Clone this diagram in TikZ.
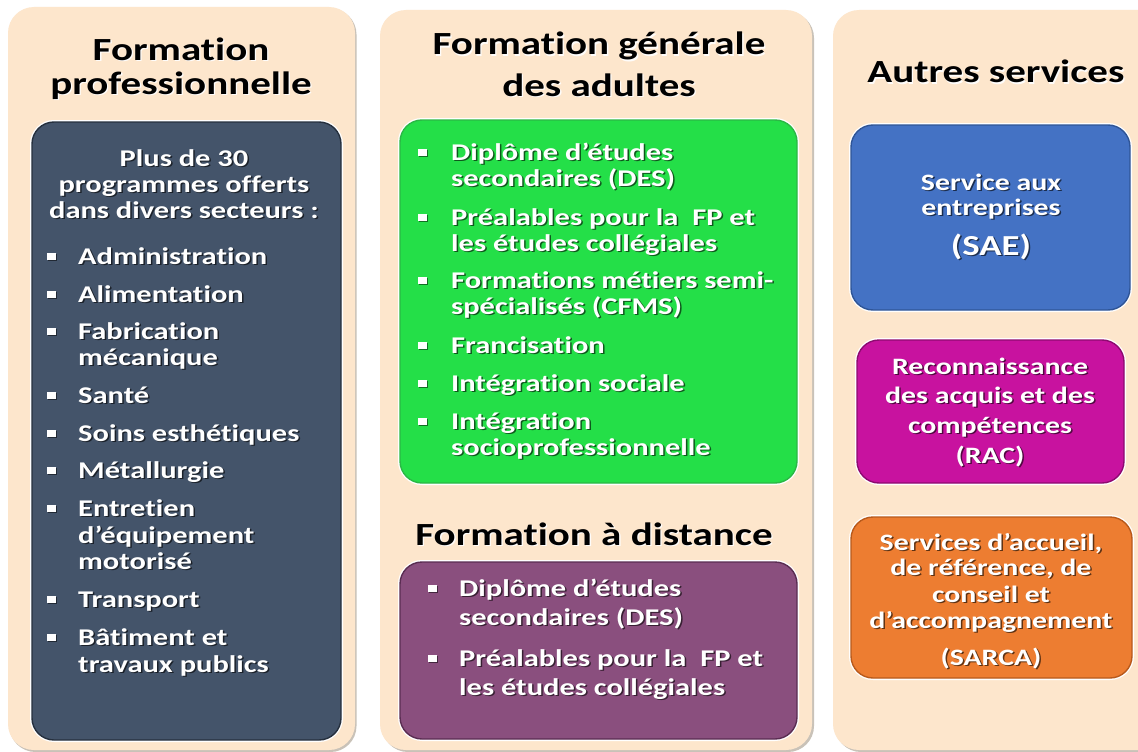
\documentclass[tikz,border=0pt]{standalone}
\usepackage{fontspec}
\newfontfamily\cf{Carlito}[FakeStretch=1.27,Ligatures=NoCommon]
\definecolor{cream}{HTML}{FDE6CC}
\definecolor{panelsh}{HTML}{C9C2B8}
\definecolor{slate}{HTML}{44546A}
\definecolor{slateb}{HTML}{26303E}
\definecolor{vgreen}{HTML}{24DF48}
\definecolor{vgreenb}{HTML}{2BB845}
\definecolor{plum}{HTML}{8A4F7E}
\definecolor{plumb}{HTML}{5A2D52}
\definecolor{sblue}{HTML}{4472C4}
\definecolor{sblueb}{HTML}{2F5597}
\definecolor{mag}{HTML}{C8129F}
\definecolor{magb}{HTML}{8E0A70}
\definecolor{orng}{HTML}{ED7D31}
\definecolor{orngb}{HTML}{B85A1C}
\tikzset{
  panel/.style={fill=cream, rounded corners=26pt},
  panelshadow/.style={fill=panelsh, rounded corners=26pt},
  box/.style={rounded corners=22pt, line width=1.4pt},
  boxglow/.style={rounded corners=22pt, draw=white, line width=4pt},
  titletxt/.style={font=\cf\bfseries\fontsize{32.3}{38}\selectfont, text=black, inner sep=0pt},
  titleglow/.style={text=white, opacity=0.9},
  wtxt/.style={font=\cf\bfseries\fontsize{24}{27}\selectfont, text=white, inner sep=0pt},
  rtxt/.style={font=\cf\bfseries\fontsize{23.5}{27}\selectfont},
  bigtxt/.style={font=\cf\bfseries\fontsize{29}{32}\selectfont},
  wsh/.style={text=black, opacity=0.6},
  bul/.style={rectangle, fill=white, minimum width=9pt, minimum height=7pt, inner sep=0pt},
  bulsh/.style={rectangle, fill=black, opacity=0.5, minimum width=9pt, minimum height=7pt, inner sep=0pt},
}
% white line with dark shadow: name, options, x, y, text
\newcommand\wl[5]{%
  \node[wtxt,#2,wsh] (#1s) at (#3+1.5,#4+1.5) {#5};
  \node[wtxt,#2] (#1) at (#3,#4) {#5};}
% title line with light glow
\newcommand\tl[4]{%
  \node[titletxt,anchor=base,titleglow] (#1g) at (#2+1.3,#3+1.3) {#4};
  \node[titletxt,anchor=base] (#1) at (#2,#3) {#4};}
% bullet: name, x, baseline y
\newcommand\bu[3]{%
  \node[bulsh] (#1s) at (#2+1.2,#3-7.5+1.2) {};
  \node[bul] (#1) at (#2,#3-7.5) {};}
\begin{document}
\begin{tikzpicture}[x=1pt,y=-1pt]
\useasboundingbox (0,0) rectangle (1138,752);
\fill[white] (0,0) rectangle (1138,752);
% panels
\fill[panelshadow] (9.5,8.5) rectangle (356.5,752);
\fill[panel] (8,7) rectangle (355,750);
\fill[panelshadow] (382,12) rectangle (814,752);
\fill[panel] (380,10) rectangle (812,750);
\fill[panelshadow] (835,12) rectangle (1170,752);
\fill[panel] (833,10) rectangle (1168,750);
% titles
\tl{t1a}{181}{60}{Formation}
\tl{t1b}{181}{94}{professionnelle}
\tl{t2a}{599}{55}{Formation générale}
\tl{t2b}{599}{96}{des adultes}
\tl{t3}{594}{545}{Formation à distance}
\tl{t4}{996}{83}{Autres services}
% coloured boxes
\draw[boxglow] (32,122) rectangle (341,740);
\draw[box, fill=slate, draw=slateb] (32,122) rectangle (341,740);
\draw[boxglow] (400,120) rectangle (797,483);
\draw[box, fill=vgreen, draw=vgreenb] (400,120) rectangle (797,483);
\draw[boxglow] (400,562) rectangle (797,739);
\draw[box, fill=plum, draw=plumb] (400,562) rectangle (797,739);
\draw[boxglow] (851,125) rectangle (1130,310);
\draw[box, fill=sblue, draw=sblueb] (851,125) rectangle (1130,310);
\draw[boxglow] (857,340) rectangle (1124,483);
\draw[box, fill=mag, draw=magb] (857,340) rectangle (1124,483);
\draw[boxglow] (851,517) rectangle (1132,678);
\draw[box, fill=orng, draw=orngb] (851,517) rectangle (1132,678);
% formation professionnelle
\wl{p1}{anchor=base}{184}{166}{Plus de 30}
\wl{p2}{anchor=base}{184}{192}{programmes offerts}
\wl{p3}{anchor=base}{184}{218}{dans divers secteurs :}
\wl{a1}{anchor=base west}{78}{264}{Administration}
\wl{a2}{anchor=base west}{78}{302}{Alimentation}
\wl{a3}{anchor=base west}{78}{339}{Fabrication}
\wl{a3b}{anchor=base west}{78}{365}{mécanique}
\wl{a4}{anchor=base west}{78}{403}{Santé}
\wl{a5}{anchor=base west}{78}{441}{Soins esthétiques}
\wl{a6}{anchor=base west}{78}{478}{Métallurgie}
\wl{a7}{anchor=base west}{78}{516}{Entretien}
\wl{a7b}{anchor=base west}{78}{543}{d’équipement}
\wl{a7c}{anchor=base west}{78}{569}{motorisé}
\wl{a8}{anchor=base west}{78}{607}{Transport}
\wl{a9}{anchor=base west}{78}{645}{Bâtiment et}
\wl{a9b}{anchor=base west}{78}{672}{travaux publics}
\bu{ba1}{51}{264}\bu{ba2}{51}{302}\bu{ba3}{51}{339}\bu{ba4}{51}{403}
\bu{ba5}{51}{441}\bu{ba6}{51}{478}\bu{ba7}{51}{516}\bu{ba8}{51}{607}
\bu{ba9}{51}{645}
% formation generale
\wl{g1}{anchor=base west}{451}{160}{Diplôme d’études}
\wl{g1b}{anchor=base west}{451}{186}{secondaires (DES)}
\wl{g2}{anchor=base west}{451}{225}{Préalables pour la\ \ FP et}
\wl{g2b}{anchor=base west}{451}{251}{les études collégiales}
\wl{g3}{anchor=base west}{451}{288}{Formations métiers semi-}
\wl{g3b}{anchor=base west}{451}{314}{spécialisés (CFMS)}
\wl{g4}{anchor=base west}{451}{353}{Francisation}
\wl{g5}{anchor=base west}{451}{391}{Intégration sociale}
\wl{g6}{anchor=base west}{451}{429}{Intégration}
\wl{g6b}{anchor=base west}{451}{455}{socioprofessionnelle}
\bu{bg1}{422}{160}\bu{bg2}{422}{225}\bu{bg3}{422}{288}
\bu{bg4}{422}{353}\bu{bg5}{422}{391}\bu{bg6}{422}{429}
% formation a distance
\wl{d1}{anchor=base west}{459}{596}{Diplôme d’études}
\wl{d1b}{anchor=base west}{459}{625}{secondaires (DES)}
\wl{d2}{anchor=base west}{459}{666}{Préalables pour la\ \ FP et}
\wl{d2b}{anchor=base west}{459}{695}{les études collégiales}
\bu{bd1}{432}{596}\bu{bd2}{432}{666}
% autres services
\wl{s1}{anchor=base,rtxt}{991}{190}{Service aux}
\wl{s1b}{anchor=base,rtxt}{991}{215}{entreprises}
\wl{s1c}{anchor=base,bigtxt}{991}{255}{(SAE)}
\wl{r1}{anchor=base,rtxt}{990}{374}{Reconnaissance}
\wl{r1b}{anchor=base,rtxt}{990}{403}{des acquis et des}
\wl{r1c}{anchor=base,rtxt}{990}{433}{compétences}
\wl{r1d}{anchor=base,rtxt}{990}{463}{(RAC)}
\wl{o1}{anchor=base,rtxt}{991}{550}{Services d’accueil,}
\wl{o1b}{anchor=base,rtxt}{991}{575}{de référence, de}
\wl{o1c}{anchor=base,rtxt}{991}{602}{conseil et}
\wl{o1d}{anchor=base,rtxt}{991}{628}{d’accompagnement}
\wl{o1e}{anchor=base,rtxt}{991}{665}{(SARCA)}
\end{tikzpicture}
\end{document}
